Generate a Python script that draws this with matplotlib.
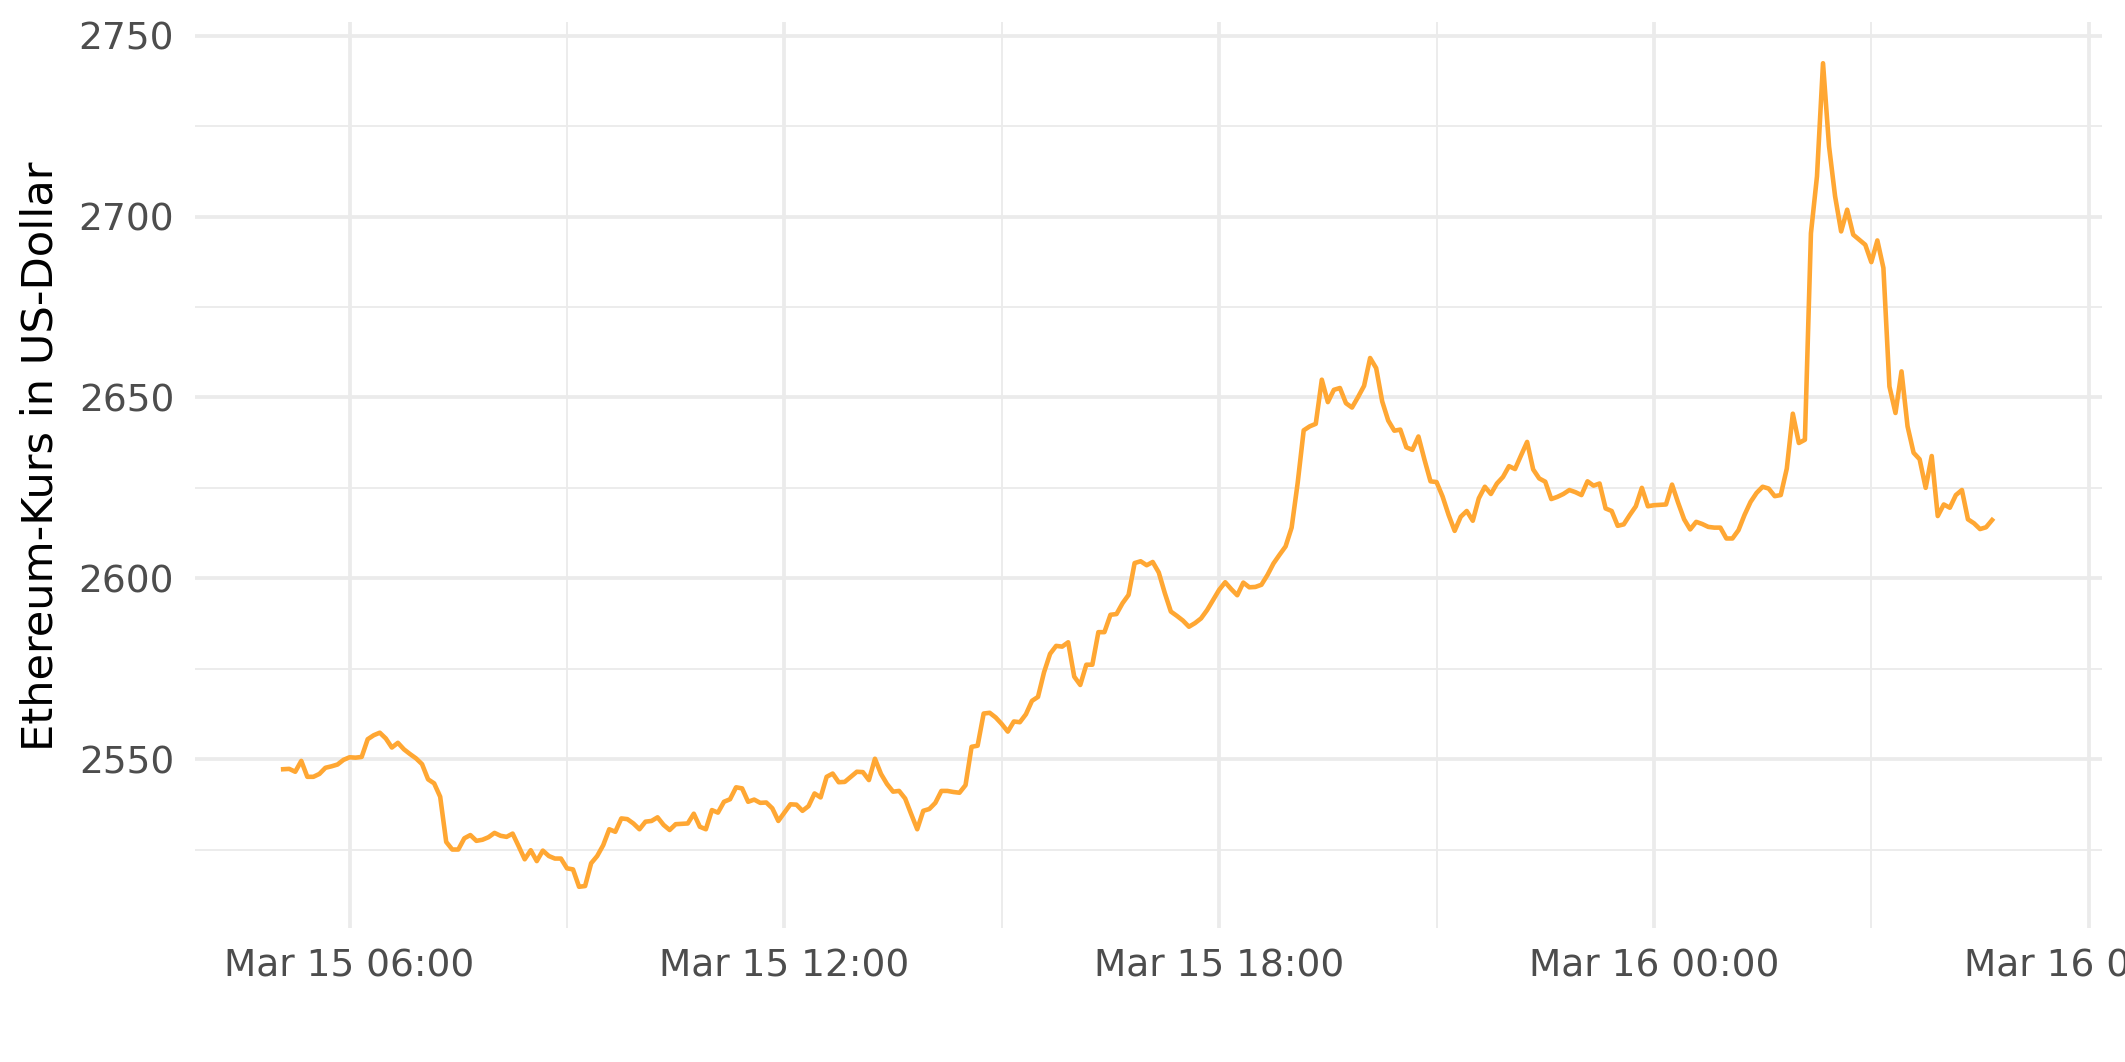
import pandas as pd
import matplotlib
matplotlib.use("Agg")
import matplotlib.pyplot as plt
import matplotlib.dates as mdates
from matplotlib.ticker import MultipleLocator

# Kursdaten (5-Minuten-Takt)
start_time = "2022-03-15 05:05"
eth_price = [
    2547.2, 2547.3, 2546.5, 2549.5, 2545.1, 2545.1, 2545.9, 2547.6, 2548.0, 2548.5,
    2549.8, 2550.5, 2550.4, 2550.6, 2555.5, 2556.6, 2557.3, 2555.7, 2553.2, 2554.5,
    2552.7, 2551.4, 2550.2, 2548.6, 2544.4, 2543.3, 2539.6, 2527.1, 2525.0, 2525.0,
    2528.1, 2529.0, 2527.4, 2527.7, 2528.4, 2529.6, 2528.8, 2528.5, 2529.4, 2525.9,
    2522.3, 2524.8, 2521.8, 2524.7, 2523.2, 2522.5, 2522.5, 2519.8, 2519.5, 2514.7,
    2514.9, 2521.2, 2523.2, 2526.2, 2530.6, 2529.9, 2533.6,
    2533.4, 2532.2, 2530.6, 2532.7, 2532.9, 2533.9, 2531.8, 2530.4, 2532.0, 2532.1,
    2532.2, 2534.9, 2531.3, 2530.6, 2535.9, 2535.2, 2538.2, 2538.9, 2542.2, 2541.9,
    2538.2, 2538.8, 2537.9, 2538.0, 2536.4, 2532.9, 2535.2, 2537.5, 2537.4, 2535.7,
    2537.0, 2540.5, 2539.4, 2545.1, 2546.0, 2543.6, 2543.7, 2545.1, 2546.5, 2546.4,
    2544.2, 2550.1, 2545.9, 2543.1, 2541.0, 2541.2, 2539.1, 2534.8, 2530.6, 2535.7,
    2536.2, 2537.9, 2541.2, 2541.2, 2540.9, 2540.7, 2542.8, 2553.4, 2553.7, 2562.6,
    2562.8, 2561.5, 2559.7, 2557.6, 2560.4, 2560.2, 2562.4, 2566.1, 2567.2,
    2574.0, 2579.1, 2581.3, 2581.1, 2582.3, 2572.8, 2570.5, 2576.1, 2576.1, 2585.1,
    2585.1, 2589.9, 2590.1, 2593.1, 2595.4, 2604.2, 2604.7, 2603.6, 2604.5,
    2601.6, 2595.9, 2590.8, 2589.6, 2588.3, 2586.6, 2587.6, 2588.9, 2591.2, 2594.0,
    2596.8, 2598.9, 2597.0, 2595.3, 2598.8, 2597.5, 2597.6, 2598.2, 2600.9, 2604.1,
    2606.5, 2608.8, 2614.0,
    2626.3, 2640.9, 2642.0, 2642.7, 2654.9, 2648.7, 2652.1, 2652.6, 2648.4, 2647.2,
    2650.1, 2653.2, 2660.9, 2658.1, 2648.9, 2643.6, 2640.8, 2641.1, 2636.2, 2635.5,
    2639.2, 2632.8, 2626.8, 2626.6, 2622.6,
    2617.5, 2613.1, 2617.0, 2618.6, 2615.9, 2622.1, 2625.3, 2623.3, 2626.2, 2628.0,
    2631.0, 2630.2, 2634.0, 2637.7, 2630.1, 2627.6, 2626.7, 2621.9, 2622.5, 2623.3,
    2624.4, 2623.8, 2623.0, 2626.8, 2625.6, 2626.2, 2619.3, 2618.6, 2614.5, 2614.9,
    2617.5, 2619.9, 2625.0, 2619.9, 2620.2, 2620.3, 2620.4, 2625.9, 2620.9, 2616.3,
    2613.5, 2615.6, 2615.0, 2614.2, 2614.0, 2614.0, 2611.0, 2611.0, 2613.3, 2617.5,
    2621.1, 2623.6, 2625.3, 2624.8, 2622.7, 2623.0, 2630.3, 2645.5, 2637.4, 2638.3,
    2695.4, 2711.1, 2742.4, 2719.4, 2705.6, 2695.9, 2701.9, 2695.0, 2693.6, 2692.2,
    2687.4, 2693.4, 2685.8, 2653.0, 2645.7, 2657.2, 2642.0, 2634.7, 2632.9, 2625.0,
    2633.8, 2617.2, 2620.4, 2619.5, 2623.0, 2624.4, 2616.3, 2615.2, 2613.6, 2614.1,
    2616.1,
]
y_ticks = [2550, 2600, 2650, 2700, 2750]

zeit = pd.date_range(start_time, periods=len(eth_price), freq="5min")

W, H, DPI = 2125, 1062, 300
fig = plt.figure(figsize=(W / DPI, H / DPI), dpi=DPI)

# Panel-Position in Pixeln (wie im Original)
left_px, right_px = 195, 2102
top_px, bottom_px = 22, 928
ax = fig.add_axes([left_px / W, 1 - bottom_px / H,
                   (right_px - left_px) / W, (bottom_px - top_px) / H])

ax.plot(zeit, eth_price, color="#ffa733", linewidth=1.1, zorder=3)

x0 = pd.Timestamp("2022-03-15 03:52")
x1 = pd.Timestamp("2022-03-16 06:11")
ax.set_xlim(x0, x1)
ax.set_ylim(2503.3, 2753.8)

ax.set_yticks(y_ticks)
ax.yaxis.set_minor_locator(MultipleLocator(25))
ax.xaxis.set_major_locator(mdates.HourLocator(byhour=[0, 6, 12, 18]))
ax.xaxis.set_minor_locator(mdates.HourLocator(byhour=[3, 9, 15, 21]))
ax.xaxis.set_major_formatter(mdates.DateFormatter("%b %d %H:%M"))

grid_col = "#ebebeb"
ax.grid(True, which="major", color=grid_col, linewidth=0.9, zorder=0)
ax.grid(True, which="minor", color=grid_col, linewidth=0.45, zorder=0)
ax.set_axisbelow(True)
for s in ax.spines.values():
    s.set_visible(False)

ax.tick_params(which="both", length=0)
ax.tick_params(axis="both", labelsize=9, labelcolor="#4d4d4d")
ax.tick_params(axis="y", pad=5)
ax.tick_params(axis="x", pad=5)

# y-Achsentitel
fig.text(41 / W, 1 - 456 / H, "Ethereum-Kurs in US-Dollar", rotation=90,
         ha="center", va="center", fontsize=10.4, color="black")

fig.savefig("out.png", dpi=DPI)
